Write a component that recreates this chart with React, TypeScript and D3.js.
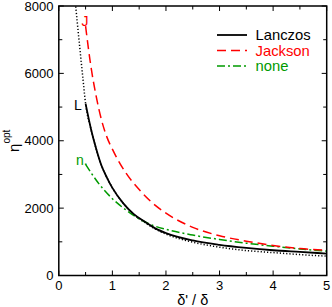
import React from "react";
import * as d3 from "d3";

const lanczosX = [0.5, 0.6, 0.7, 0.8, 0.9, 1.0, 1.2, 1.4, 1.6, 1.8, 2.0, 2.5, 3.0, 3.5, 4.0, 4.5, 5.0];
const lanczosY = [5100, 4350, 3750, 3250, 2900, 2600, 2150, 1820, 1600, 1400, 1260, 1040, 910, 820, 750, 700, 650];

const jacksonX = [0.5, 0.6, 0.7, 0.8, 0.9, 1.0, 1.25, 1.5, 1.75, 2.0, 2.5, 3.0, 3.5, 4.0, 4.5, 5.0];
const jacksonY = [7400, 6200, 5300, 4600, 4100, 3750, 3050, 2550, 2150, 1850, 1430, 1180, 1020, 890, 800, 750];

const noneX = [0.5, 0.75, 1.0, 1.25, 1.5, 1.75, 2.0, 2.5, 3.0, 3.5, 4.0, 4.5, 5.0];
const noneY = [3300, 2720, 2280, 1950, 1680, 1490, 1370, 1200, 1070, 960, 870, 790, 720];

const asymX = [0.31, 0.35, 0.4, 0.45, 0.5, 0.6, 0.7, 0.8, 0.9, 1.0, 1.2, 1.4, 1.6, 1.8, 2.0, 2.5, 3.0, 3.5, 4.0, 4.5, 5.0];
const asymY = [8080, 7430, 6630, 5850, 5100, 4350, 3750, 3250, 2900, 2600, 2150, 1810, 1580, 1380, 1230, 990, 840, 740, 680, 620, 575];

const xTicks = [0, 1, 2, 3, 4, 5];
const xMinor = [0.5, 1.5, 2.5, 3.5, 4.5];
const yTicks = [0, 2000, 4000, 6000, 8000];
const yMinor = [1000, 3000, 5000, 7000];

const legendNames = ["Lanczos", "Jackson", "none"];
const legendColors = ["#000000", "#ff0000", "#009a00"];
const legendDash = ["none", "9,5", "8,3,2,3"];

const FONT = "'Liberation Sans', Arial, Helvetica, sans-serif";

export default function App() {
  const x = d3.scaleLinear().domain([0, 5]).range([58.8, 326.7]);
  const y = d3.scaleLinear().domain([0, 8000]).range([275.5, 6]);
  const line = d3
    .line<[number, number]>()
    .x((d) => x(d[0]))
    .y((d) => y(d[1]))
    .curve(d3.curveMonotoneX);
  const zip = (a: number[], b: number[]) => a.map((v, i) => [v, b[i]] as [number, number]);

  const [x0, x1] = x.range();
  const [y0, y1] = y.range();
  const tl = 5;
  const tlm = 3.5;
  const legY = [35, 50.5, 66];

  return (
    <svg width={332} height={307} style={{ position: "absolute", left: 0, top: 0 }} fontFamily={FONT}>
      <defs>
        <clipPath id="plotclip">
          <rect x={x0} y={y1} width={x1 - x0} height={y0 - y1} />
        </clipPath>
      </defs>
      <rect width={332} height={307} fill="#fff" />
      <g clipPath="url(#plotclip)" fill="none">
        <path d={line(zip(asymX, asymY)) || ""} stroke="#000" strokeWidth={1.5} strokeDasharray="1.2,2" />
        <path d={line(zip(noneX, noneY)) || ""} stroke={legendColors[2]} strokeWidth={1.5} strokeDasharray={legendDash[2]} />
        <path d={line(zip(jacksonX, jacksonY)) || ""} stroke={legendColors[1]} strokeWidth={1.5} strokeDasharray={legendDash[1]} />
        <path d={line(zip(lanczosX, lanczosY)) || ""} stroke="#000" strokeWidth={1.8} />
      </g>
      {/* frame */}
      <rect x={x0} y={y1} width={x1 - x0} height={y0 - y1} fill="none" stroke="#000" strokeWidth={1.5} />
      {/* ticks */}
      <g stroke="#000" strokeWidth={1}>
        {xTicks.map((t) => (
          <g key={"xt" + t}>
            <line x1={x(t)} x2={x(t)} y1={y0} y2={y0 - tl} />
            <line x1={x(t)} x2={x(t)} y1={y1} y2={y1 + tl} />
          </g>
        ))}
        {xMinor.map((t) => (
          <g key={"xm" + t}>
            <line x1={x(t)} x2={x(t)} y1={y0} y2={y0 - tlm} />
            <line x1={x(t)} x2={x(t)} y1={y1} y2={y1 + tlm} />
          </g>
        ))}
        {yTicks.map((t) => (
          <g key={"yt" + t}>
            <line x1={x0} x2={x0 + tl} y1={y(t)} y2={y(t)} />
            <line x1={x1} x2={x1 - tl} y1={y(t)} y2={y(t)} />
          </g>
        ))}
        {yMinor.map((t) => (
          <g key={"ym" + t}>
            <line x1={x0} x2={x0 + tlm} y1={y(t)} y2={y(t)} />
            <line x1={x1} x2={x1 - tlm} y1={y(t)} y2={y(t)} />
          </g>
        ))}
      </g>
      {/* tick labels */}
      <g fontSize={13} fill="#000">
        {xTicks.map((t) => (
          <text key={"xl" + t} x={x(t)} y={289.5} textAnchor="middle">
            {t}
          </text>
        ))}
        {yTicks.map((t) => (
          <text key={"yl" + t} x={53.5} y={y(t) + 4.7} textAnchor="end">
            {t}
          </text>
        ))}
      </g>
      {/* axis titles */}
      <text x={(x0 + x1) / 2} y={305} textAnchor="middle" fontSize={14.5}>
        δ' / δ
      </text>
      <text transform={`translate(19,${(y0 + y1) / 2}) rotate(-90)`} textAnchor="middle" fontSize={15}>
        η
        <tspan fontSize={10} dy={-9}>
          opt
        </tspan>
      </text>
      {/* curve labels */}
      <text x={81.5} y={25.5} fontSize={14} fill="#ff0000">J</text>
      <text x={74} y={110} fontSize={14} fill="#000">L</text>
      <text x={76} y={165} fontSize={14} fill={legendColors[2]}>n.</text>
      {/* legend */}
      {legendNames.map((n, i) => (
        <g key={n}>
          <line
            x1={217}
            x2={247}
            y1={legY[i]}
            y2={legY[i]}
            stroke={legendColors[i]}
            strokeWidth={i === 0 ? 1.8 : 1.5}
            strokeDasharray={legendDash[i]}
          />
          <text x={255.5} y={legY[i] + 5} fontSize={14.8} fill={legendColors[i]}>
            {n}
          </text>
        </g>
      ))}
    </svg>
  );
}
